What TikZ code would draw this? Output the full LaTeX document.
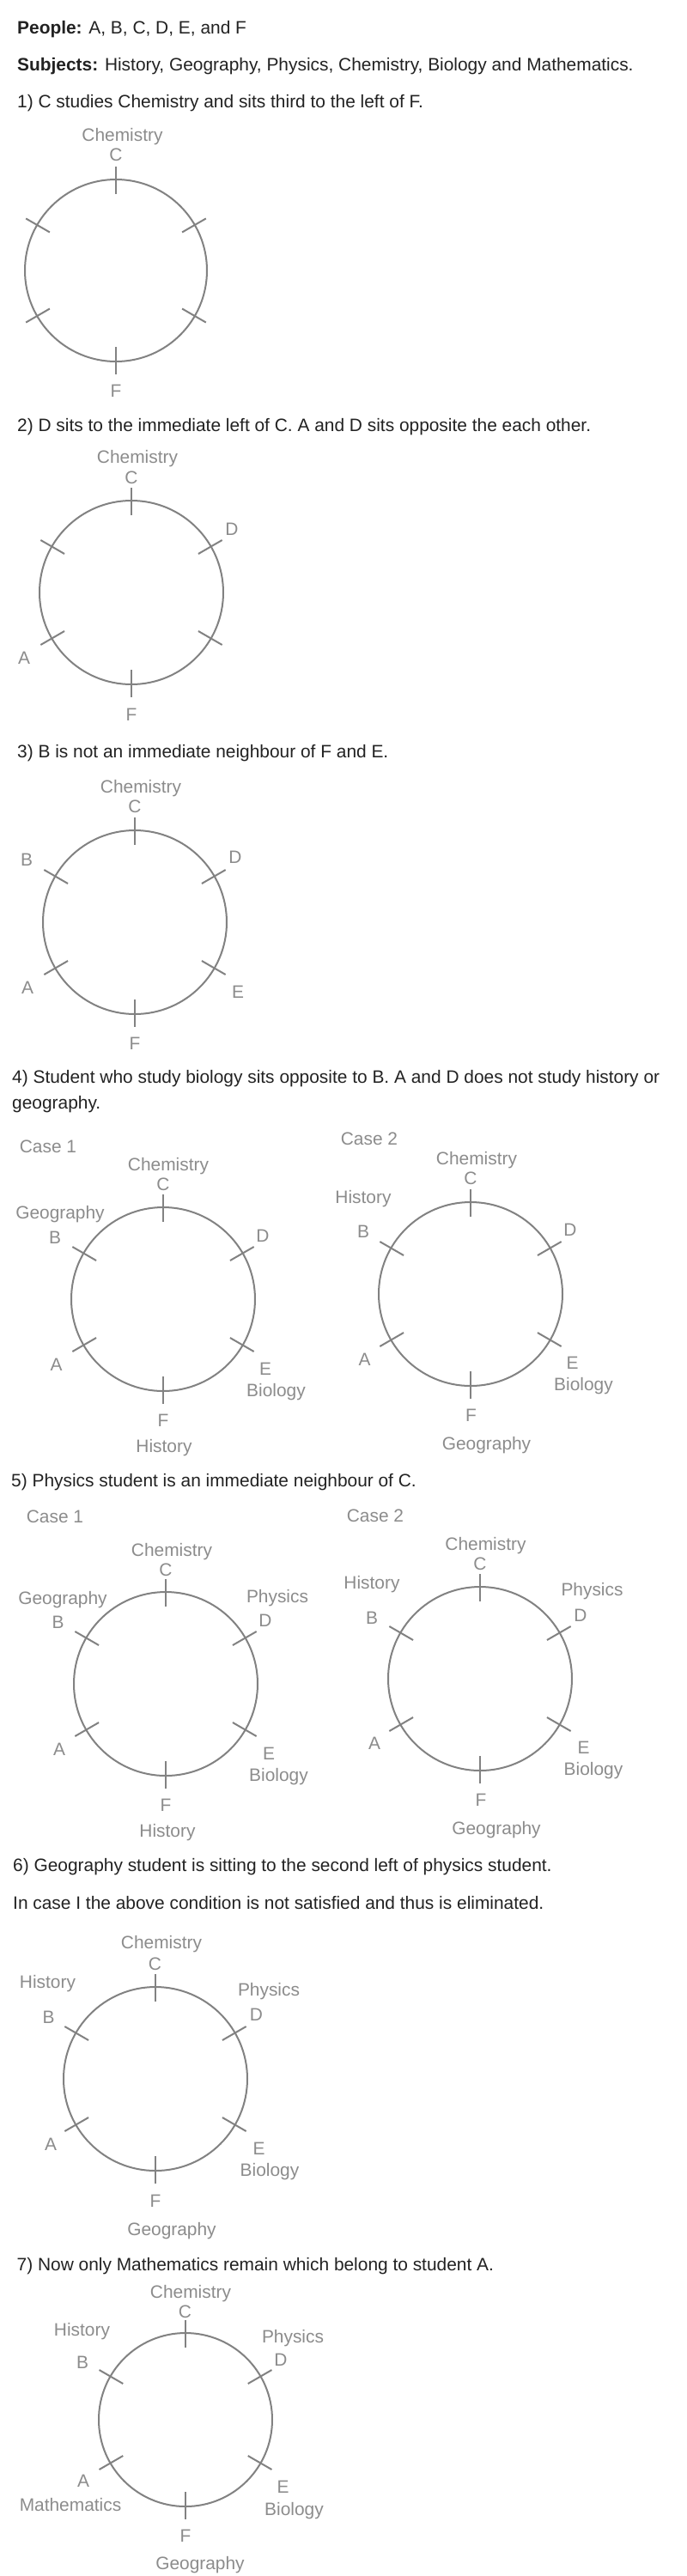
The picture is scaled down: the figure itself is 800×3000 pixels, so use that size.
\documentclass[tikz,border=0pt]{standalone}
\usepackage{fontspec}
\setmainfont{Liberation Sans}

\definecolor{ink}{HTML}{222222}
\definecolor{ringgray}{HTML}{828282}
\definecolor{lblgray}{HTML}{8C8C8C}

\begin{document}
\begin{tikzpicture}[
  x=1pt, y=-1pt,
  stmt/.style={anchor=west, inner sep=0pt, text=ink,
    font=\fontsize{20.9}{24}\selectfont, text height=15pt, text depth=0pt},
  lbl/.style={inner sep=0pt, text=lblgray,
    font=\fontsize{20.9}{24}\selectfont, text height=15pt, text depth=0pt},
  ring/.style={draw=ringgray, line width=2pt},
  seats/.pic={
    \draw[ring] (0,0) circle[radius=#1];
    \pgfmathsetmacro\rin{#1-17}
    \pgfmathsetmacro\rout{#1+15}
    \foreach \a in {90,30,-30,-90,-150,150}
      \draw[ring] (\a:\rin) -- (\a:\rout);
  },
]
  \path[fill=white, use as bounding box] (0,0) rectangle (800,3000);

  % -- Given data --
  \node[stmt] (people) at (20,32.5) {\textbf{People:} A, B, C, D, E, and F};
  \node[stmt] (subjects) at (20,75)
    {\textbf{Subjects:} History, Geography, Physics, Chemistry, Biology and Mathematics.};

  % -- Step 1 --
  \node[stmt] (step1) at (20,118) {1) C studies Chemistry and sits third to the left of F.};
  \pic at (135,315) {seats=106};
  \node[lbl] (chem1) at (142.5,157) {Chemistry};
  \node[lbl] (c1) at (135,180) {C};
  \node[lbl] (f1) at (135,455) {F};

  % -- Step 2 --
  \node[stmt] (step2) at (20,495)
    {2) D sits to the immediate left of C. A and D sits opposite the each other.};
  \pic at (153,690) {seats=107};
  \node[lbl] (chem2) at (160,532) {Chemistry};
  \node[lbl] (c2) at (153,556) {C};
  \node[lbl] (d2) at (270,615.5) {D};
  \node[lbl] (a2) at (28,766) {A};
  \node[lbl] (f2) at (153,832) {F};

  % -- Step 3 --
  \node[stmt] (step3) at (20,875) {3) B is not an immediate neighbour of F and E.};
  \pic at (157,1074) {seats=107};
  \node[lbl] (chem3) at (164,916) {Chemistry};
  \node[lbl] (c3) at (157,939) {C};
  \node[lbl] (b3) at (31,1001) {B};
  \node[lbl] (d3) at (274,998) {D};
  \node[lbl] (a3) at (32,1150) {A};
  \node[lbl] (e3) at (277,1155) {E};
  \node[lbl] (f3) at (157,1215) {F};

  % -- Step 4: two cases --
  \node[stmt] (step4) at (14,1253.5)
    {4) Student who study biology sits opposite to B. A and D does not study history or};
  \node[stmt] (step4b) at (14,1284) {geography.};
  \node[lbl] (case41) at (56,1335) {Case 1};
  \node[lbl] (case42) at (430,1326) {Case 2};

  \pic at (190,1513) {seats=107};
  \node[lbl] (chem4a) at (196,1355.5) {Chemistry};
  \node[lbl] (c4a) at (190,1379) {C};
  \node[lbl] (geo4a) at (70,1412) {Geography};
  \node[lbl] (b4a) at (64,1441) {B};
  \node[lbl] (d4a) at (306,1438.5) {D};
  \node[lbl] (a4a) at (65.5,1588.5) {A};
  \node[lbl] (e4a) at (309,1594) {E};
  \node[lbl] (bio4a) at (321.5,1619) {Biology};
  \node[lbl] (f4a) at (190,1654) {F};
  \node[lbl] (hist4a) at (191,1684) {History};

  \pic at (548,1507) {seats=107};
  \node[lbl] (chem4b) at (555,1348.5) {Chemistry};
  \node[lbl] (c4b) at (548,1372) {C};
  \node[lbl] (hist4b) at (423,1394) {History};
  \node[lbl] (b4b) at (423,1434) {B};
  \node[lbl] (d4b) at (664,1432) {D};
  \node[lbl] (a4b) at (424.5,1582.5) {A};
  \node[lbl] (e4b) at (666.5,1587) {E};
  \node[lbl] (bio4b) at (679.5,1612) {Biology};
  \node[lbl] (f4b) at (548.5,1648) {F};
  \node[lbl] (geo4b) at (566.5,1681) {Geography};

  % -- Step 5: two cases --
  \node[stmt] (step5) at (13,1723.5) {5) Physics student is an immediate neighbour of C.};
  \node[lbl] (case51) at (64,1765.5) {Case 1};
  \node[lbl] (case52) at (437,1764.5) {Case 2};

  \pic at (193,1961) {seats=107};
  \node[lbl] (chem5a) at (200,1804.5) {Chemistry};
  \node[lbl] (c5a) at (193,1828) {C};
  \node[lbl] (geo5a) at (73,1861) {Geography};
  \node[lbl] (b5a) at (67.5,1889) {B};
  \node[lbl] (phys5a) at (323,1859) {Physics};
  \node[lbl] (d5a) at (309,1887) {D};
  \node[lbl] (a5a) at (69,2036.5) {A};
  \node[lbl] (e5a) at (313,2042) {E};
  \node[lbl] (bio5a) at (324.5,2067) {Biology};
  \node[lbl] (f5a) at (193,2102) {F};
  \node[lbl] (hist5a) at (195,2132) {History};

  \pic at (559,1955) {seats=107};
  \node[lbl] (chem5b) at (565.5,1797.5) {Chemistry};
  \node[lbl] (c5b) at (559,1821) {C};
  \node[lbl] (hist5b) at (433,1842.5) {History};
  \node[lbl] (b5b) at (433,1883.5) {B};
  \node[lbl] (phys5b) at (689.5,1850.5) {Physics};
  \node[lbl] (d5b) at (676,1881) {D};
  \node[lbl] (a5b) at (436,2030) {A};
  \node[lbl] (e5b) at (679.5,2035) {E};
  \node[lbl] (bio5b) at (691,2060) {Biology};
  \node[lbl] (f5b) at (560,2095.5) {F};
  \node[lbl] (geo5b) at (578,2129) {Geography};

  % -- Step 6 --
  \node[stmt] (step6) at (15,2172)
    {6) Geography student is sitting to the second left of physics student.};
  \node[stmt] (step6b) at (15,2215.5)
    {In case I the above condition is not satisfied and thus is eliminated.};
  \pic at (181,2421) {seats=107};
  \node[lbl] (chem6) at (188,2262) {Chemistry};
  \node[lbl] (c6) at (180.5,2286.5) {C};
  \node[lbl] (hist6) at (55.5,2308) {History};
  \node[lbl] (b6) at (56.5,2348.5) {B};
  \node[lbl] (phys6) at (313,2316.5) {Physics};
  \node[lbl] (d6) at (298.5,2346) {D};
  \node[lbl] (a6) at (59,2497) {A};
  \node[lbl] (e6) at (301.5,2502) {E};
  \node[lbl] (bio6) at (314,2526.5) {Biology};
  \node[lbl] (f6) at (181,2562.5) {F};
  \node[lbl] (geo6) at (200,2596) {Geography};

  % -- Step 7: final arrangement --
  \node[stmt] (step7) at (19.5,2637)
    {7) Now only Mathematics remain which belong to student A.};
  \pic at (216,2818) {seats=101};
  \node[lbl] (chem7) at (222,2669) {Chemistry};
  \node[lbl] (c7) at (215.5,2692) {C};
  \node[lbl] (hist7) at (95.5,2713) {History};
  \node[lbl] (b7) at (96,2751) {B};
  \node[lbl] (phys7) at (341,2720.5) {Physics};
  \node[lbl] (d7) at (327,2748) {D};
  \node[lbl] (a7) at (97,2889) {A};
  \node[lbl] (math7) at (82,2916.5) {Mathematics};
  \node[lbl] (e7) at (329.5,2896) {E};
  \node[lbl] (bio7) at (342.5,2921.5) {Biology};
  \node[lbl] (f7) at (216,2952.5) {F};
  \node[lbl] (geo7) at (233,2984.5) {Geography};
\end{tikzpicture}
\end{document}
